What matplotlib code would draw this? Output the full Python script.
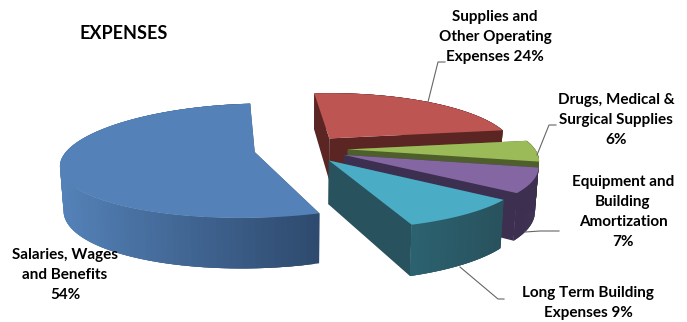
import numpy as np
import matplotlib
matplotlib.use("Agg")
import matplotlib.pyplot as plt
from matplotlib.patches import Polygon

plt.rcParams['font.family'] = ['Lato', 'DejaVu Sans']

# expense shares, clockwise
labels = ["Salaries, Wages\nand Benefits\n54%", "Supplies and\nOther Operating\nExpenses 24%",
          "Drugs, Medical &\nSurgical Supplies\n6%", "Equipment and\nBuilding\nAmortization\n7%",
          "Long Term Building\nExpenses 9%"]
shares = [54, 24, 6, 7, 9]
top_colors = ["#5482b8", "#bd5552", "#9bbb59", "#8466a3", "#4bacc6"]
side_light = ["#5482b8", "#5a2522", "#4f5f2b", "#3d2f50", "#2c6270"]
side_dark = ["#2e4a6e", "#5a2522", "#4f5f2b", "#3d2f50", "#28525d"]
cut_colors = ["#2e4a6e", "#5a2522", "#4f5f2b", "#3d2f50", "#28525d"]

# pie geometry, in pixels
start_angle = 160.0
explode = 0.25
cx, cy = 301, 149
rx, ry = 187, 55
lean = -4.0
persp_x = 0.18
persp_y = 0.15
depth = 42.5
shrink = 0.985


def project(u, v, low=False):
    # plane coordinates to the screen, v points at the viewer
    sx = 1.0 / (1.0 - persp_x * v)
    sy = 1.0 / (1.0 - persp_y * v)
    x = rx * u * sx
    y = ry * v * sy
    if low:
        x = x * shrink
        y = y + depth * sy
    return cx + x + lean * v, cy + y


def mix(c1, c2, t):
    a = np.array(matplotlib.colors.to_rgb(c1))
    b = np.array(matplotlib.colors.to_rgb(c2))
    return a + (b - a) * t


fig = plt.figure(figsize=(6.87, 3.22), dpi=100)
ax = fig.add_axes([0, 0, 1, 1])
ax.set_xlim(0, 687)
ax.set_ylim(322, 0)
ax.axis('off')

# slice boundaries, clockwise from the top
edges = start_angle + np.cumsum([0] + shares) * 3.6

for i in range(5):
    a0, a1 = edges[i], edges[i + 1]
    mid = np.radians((a0 + a1) / 2)
    ou, ov = explode * np.sin(mid), -explode * np.cos(mid)
    th = np.radians(np.linspace(a0, a1, 120))
    us = ou + np.sin(th)
    vs = ov - np.cos(th)

    top_x, top_y = project(us, vs)
    low_x, low_y = project(us, vs, low=True)
    ax_, ay_ = project(ou, ov)
    bx_, by_ = project(ou, ov, low=True)

    # cut faces first, they sit behind the rim and the top
    for j in [0, -1]:
        ax.add_patch(Polygon([(ax_, ay_), (top_x[j], top_y[j]), (low_x[j], low_y[j]), (bx_, by_)],
                             closed=True, fc=cut_colors[i], ec='none', zorder=i * 3 + 1))

    # outer rim in thin overlapping strips, shaded by x
    x_lo, x_hi = top_x.min(), top_x.max()
    for k in range(len(th) - 1):
        t = (top_x[k] - x_lo) / max(x_hi - x_lo, 1)
        col = mix(side_light[i], side_dark[i], t)
        m = min(k + 3, len(th) - 1)
        ax.add_patch(Polygon(list(zip(np.r_[top_x[k:m + 1], low_x[k:m + 1][::-1]],
                                      np.r_[top_y[k:m + 1], low_y[k:m + 1][::-1]])),
                             closed=True, fc=col, ec='none', zorder=i * 3 + 2))

    ax.add_patch(Polygon(list(zip(np.r_[ax_, top_x], np.r_[ay_, top_y])), closed=True,
                         fc=top_colors[i], ec='none', zorder=i * 3 + 3))

# leader lines
line_col = "#666666"
leaders = [([428, 438, 445], [102, 62, 62]),
           ([537, 549, 556], [155, 125, 125]),
           ([525, 540, 559], [232, 231, 231]),
           ([460, 498, 504], [267, 299, 299])]
for lx, ly in leaders:
    ax.plot(lx, ly, color=line_col, lw=0.8, zorder=20)

fs = 11
ls = 1.55
ax.text(123.5, 33, "EXPENSES", fontsize=13, fontweight='bold', ha='center', va='center', color='black')
ax.text(65, 275, labels[0], fontsize=fs, fontweight='bold', ha='center', va='center', linespacing=ls)
ax.text(495, 37, labels[1], fontsize=fs, fontweight='bold', ha='center', va='center', linespacing=ls)
ax.text(616, 120, labels[2], fontsize=fs, fontweight='bold', ha='center', va='center', linespacing=ls)
ax.text(623, 212, labels[3], fontsize=fs, fontweight='bold', ha='center', va='center', linespacing=ls)
ax.text(588, 303, labels[4], fontsize=fs, fontweight='bold', ha='center', va='center', linespacing=ls)

fig.savefig("out.png", dpi=100)
